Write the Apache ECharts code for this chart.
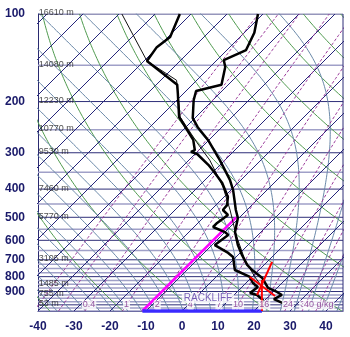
<!DOCTYPE html>
<html><head><meta charset="utf-8">
<script src="https://cdn.jsdelivr.net/npm/echarts@6/dist/echarts.min.js"></script>
<style>html,body{margin:0;padding:0;background:#fff}#c{width:350px;height:337px}</style>
</head><body><div id="c"></div>
<script>
// ---- tick labels ----
const pressureTicks = [100,200,300,400,500,600,700,800,900];
const tempTicks = [-40,-30,-20,-10,0,10,20,30,40];
// ---- standard height labels ----
const heightLevels = [100,150,200,250,300,400,500,700,850,925,1000];
const heightLabels = ['16610 m','14080 m','12230 m','10770 m','9530 m','7460 m','5770 m','3105 m','1485 m','755 m','53 m'];
// ---- sounding: temperature ----
const tempP = [100,116,133,144,152,175,184,198,228,245,271,318,372,403,472,503,562,623,674,729,759,808,875,903,925,955,986];
const tempT = [-61.4,-57.2,-54.7,-58.1,-55.8,-51.9,-57.2,-55.3,-50.6,-46.7,-40.3,-31.4,-23.1,-19.4,-13.1,-10.3,-7.2,-2.8,1.1,5.3,8.1,13.1,17.5,21.1,23.3,22.2,25.8];
// ---- sounding: dew point ----
const dewP = [100,120,130,145,175,187,226,271,294,298,303,330,352,381,426,454,472,491,523,540,562,575,623,663,685,759,802,841,868,911,925,962,985];
const dewT = [-83.1,-79.4,-80.3,-79.2,-64.2,-61.7,-54.7,-44.4,-41.1,-41.7,-39.4,-33.3,-29.2,-24.4,-18.9,-16.9,-16.7,-13.9,-14.7,-14.7,-10,-8.3,-9.2,-3.3,-0.8,3.3,9.4,11.9,14.4,13.9,16.4,19.4,20];
// ---- parcel path (thin line) ----
const parcelP = [100,145,169,226,276,318,393,472,575,701,802,868];
const parcelT = [-99.2,-79.2,-65.6,-54.4,-42.8,-34.2,-23.1,-14.7,-6.1,3.3,10.8,15.6];
// ---- Rackliff construction ----
const rackT500 = -11;
const rackThetaW = 22.2;
const redCrossA = [[9.4,802],[21.7,933]];
const redCrossB = [[11.4,712],[16.4,925]];
const redVert = [[13.6,822],[22.2,1050]];
// ---- mixing ratio lines (g/kg) ----
const mixRatios = [0.1,0.2,0.4,1,2,4,7,10,16,24,32,40];
const mixLabels = ['','','0.4','1','2','4','7','10','16','24','32','40 g/kg'];
// ---- background families ----
const isotherms = [];
for (let t=-130;t<=40;t+=10) isotherms.push(t);
const dryThetaC = [];
for (let th=-80;th<=220;th+=20) dryThetaC.push(th);
const moistThetaW = [];
for (let tw=-38;tw<=42;tw+=4) moistThetaW.push(tw);
const isobars = [];
for (let p=100;p<=1050;p+=50) isobars.push(p);
const isobarsFine = [725,775,825,875,925,975,1025];

const PBASE = 1050, K = 35.086, XMIN = -40, XMAX = 44.72;
const sk = (T,p) => T + K*Math.log(PBASE/p);
const pair = (P,T) => P.map((p,i)=>[sk(T[i],p),p]);
const esat = t => 6.112*Math.exp(17.67*t/(t+243.5));
function tdFromMix(w,p){ const e=w*p/(622+w); const l=Math.log(e/6.112); return 243.5*l/(17.67-l); }

function pLevels(){ const a=[]; for(let lp=Math.log(1050); lp>=Math.log(100)-1e-9; lp-=0.02) a.push(Math.exp(lp)); a.push(100); return a; }
const PL = pLevels();
function famLines(fn, list){ const out=[]; list.forEach(v=>{ PL.forEach(p=>{ out.push([sk(fn(v,p),p),p]); }); out.push(null); }); return out; }

const isoData = []; isotherms.forEach(t=>{ isoData.push([sk(t,1050),1050],[sk(t,100),100],null); });
const dryData = famLines((tc,p)=>(tc+273.15)*Math.pow(p/1000,0.2857)-273.15, dryThetaC);
// saturated lapse rate in height, converted with a constant scale height
function moistLine(tw){
  const Rd=287,cp=1004,Lv=2.5e6,eps=0.622,g=9.81,H=7200;
  function f(T,p){ const tc=T-273.15; const es=esat(tc); const rs=eps*es/(p-es);
    return H*g*(1+Lv*rs/(Rd*T))/(cp+Lv*Lv*rs*eps/(Rd*T*T)); }
  let T=tw+273.15; let lp=Math.log(1000); const h=0.01;
  const pts=[[1000,T]];
  while(lp>Math.log(100)){ const k1=f(T,Math.exp(lp)); const k2=f(T-h*k1/2,Math.exp(lp-h/2)); const k3=f(T-h*k2/2,Math.exp(lp-h/2)); const k4=f(T-h*k3,Math.exp(lp-h));
    T-= h*(k1+2*k2+2*k3+k4)/6; lp-=h; pts.push([Math.exp(lp),T]); if(T<80) break; }
  T=tw+273.15; lp=Math.log(1000); const down=[];
  while(lp<Math.log(1050)){ const k1=f(T,Math.exp(lp)); T+=0.01*k1; lp+=0.01; down.push([Math.exp(lp),T]); }
  return down.reverse().concat(pts);
}
const moistData=[]; moistThetaW.forEach(tw=>{ moistLine(tw).forEach(([p,T])=>moistData.push([sk(T-273.15,p),p])); moistData.push(null); });
const mixData=[]; mixRatios.forEach(w=>{ PL.forEach(p=>mixData.push([sk(tdFromMix(w,p),p),p])); mixData.push(null); });
const isobarDark=[], isobarLight=[];
isobars.forEach(p=>{ (p%100===0?isobarDark:isobarLight).push([XMIN,p],[XMAX,p],null); });
isobarsFine.forEach(p=>isobarLight.push([XMIN,p],[XMAX,p],null));

const bgLine=(name,data,color,width,type)=>({type:'line',name,data,symbol:'none',silent:true,animation:false,connectNulls:false,
  lineStyle:{color,width,type:type||'solid'},z:1});

const font='Liberation Sans, Arial, sans-serif';
const chart = echarts.init(document.getElementById('c'),null,{renderer:'canvas'});
chart.setOption({
  backgroundColor:'#fff',
  animation:false,
  grid:{left:38,right:7,top:14,bottom:26,containLabel:false},
  xAxis:{type:'value',min:XMIN,max:XMAX,interval:10,
    axisLine:{show:true,onZero:false,lineStyle:{color:'#2a2a70',width:1}},axisTick:{show:false},splitLine:{show:false},
    axisLabel:{color:'#1a1a6a',fontSize:12,fontWeight:'bold',fontFamily:font,margin:10,customValues:tempTicks}},
  yAxis:{type:'log',min:100,max:1050,inverse:true,
    axisLine:{show:true,onZero:false,lineStyle:{color:'#2a2a70',width:1}},axisTick:{show:false},splitLine:{show:false},
    axisLabel:{color:'#1a1a6a',fontSize:12,fontWeight:'bold',fontFamily:font,margin:13,customValues:pressureTicks}},
  series:[
    bgLine('isobarLight',isobarLight,'#a0a0c8',1.5),
    bgLine('isobarDark',isobarDark,'#2e2e78',1),
    bgLine('dry',dryData,'#4f9a4f',1),
    bgLine('moist',moistData,'#6a88a8',1),
    bgLine('isotherm',isoData,'#26267a',1),
    bgLine('mix',mixData,'#9a3a9a',1,[3,2]),
    bgLine('border',[[XMAX,100],[XMAX,1050]],'#2e2e78',1),
    {type:'line',data:[[sk(rackT500,500),500],[sk(rackT500,1050),1050]],symbol:'none',silent:true,lineStyle:{color:'#ff00ff',width:2.5},z:5},
    {type:'line',data:[[sk(rackT500,1050),1050],[sk(rackThetaW,1050),1050]],symbol:'none',silent:true,clip:false,lineStyle:{color:'#3a2aff',width:3.5},z:5},
    {type:'line',data:pair(parcelP,parcelT),symbol:'none',silent:true,lineStyle:{color:'#111',width:1},z:6},
    {type:'line',data:pair(dewP,dewT),symbol:'none',silent:true,lineStyle:{color:'#000',width:2.5},z:7},
    {type:'line',data:pair(tempP,tempT),symbol:'none',silent:true,lineStyle:{color:'#000',width:2.5},z:7},
    {type:'line',data:redCrossA.map(([t,p])=>[sk(t,p),p]),symbol:'none',silent:true,lineStyle:{color:'#ff0000',width:2},z:8},
    {type:'line',data:redCrossB.map(([t,p])=>[sk(t,p),p]),symbol:'none',silent:true,lineStyle:{color:'#ff0000',width:2},z:8},
    {type:'line',data:redVert.map(([t,p])=>[sk(t,p),p]),symbol:'none',silent:true,lineStyle:{color:'#ff0000',width:2},z:8},
    {type:'scatter',symbolSize:0,silent:true,z:9,
      data:heightLevels.map((p,i)=>({value:[XMIN+0.2,p],label:{formatter:heightLabels[i]}})),
      label:{show:true,position:'right',distance:0,offset:[0,-1],fontSize:9,color:'#222',fontFamily:font}},
    {type:'scatter',symbolSize:0,silent:true,z:9,
      data:mixRatios.map((w,i)=>({value:[sk(tdFromMix(w,1000),1000),1000],label:{formatter:mixLabels[i],show:mixLabels[i]!==''}})),
      label:{show:true,position:'inside',fontSize:9,color:'#7a2a8a',fontFamily:font,backgroundColor:'#fff',padding:[0,1]}},
    {type:'scatter',symbolSize:0,silent:true,z:10,
      data:[{value:[sk(3.6,947),947]}],
      label:{show:true,position:'inside',formatter:'RACKLIFF',fontSize:10,color:'#5a3aa8',fontFamily:font,backgroundColor:'#fff',padding:[0,2]}}
  ]
});
</script></body></html>
